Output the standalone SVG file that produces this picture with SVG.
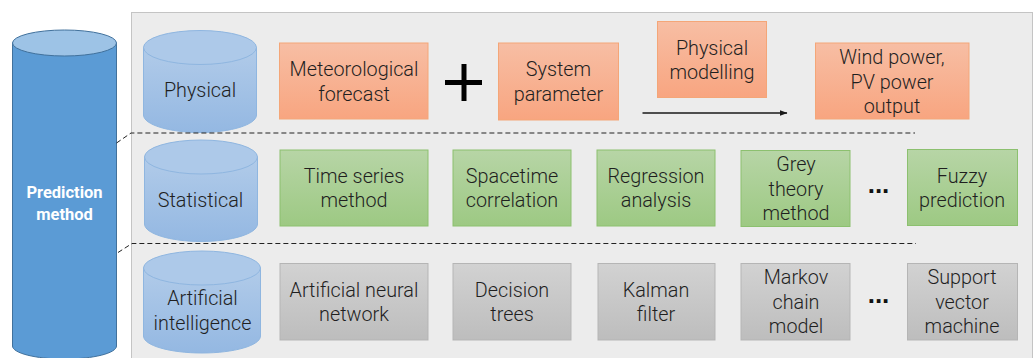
<svg xmlns="http://www.w3.org/2000/svg" width="1036" height="358" viewBox="0 0 1036 358">
<defs>
<linearGradient id="cyl" x1="0" y1="0" x2="0" y2="1"><stop offset="0" stop-color="#b1cbe9"/><stop offset="1" stop-color="#94b8e2"/></linearGradient>
<linearGradient id="org" x1="0" y1="0" x2="0" y2="1"><stop offset="0" stop-color="#f7bea4"/><stop offset="1" stop-color="#f8a580"/></linearGradient>
<linearGradient id="grn" x1="0" y1="0" x2="0" y2="1"><stop offset="0" stop-color="#b7d5a6"/><stop offset="1" stop-color="#9dc983"/></linearGradient>
<linearGradient id="gry" x1="0" y1="0" x2="0" y2="1"><stop offset="0" stop-color="#d2d2d2"/><stop offset="1" stop-color="#bdbdbd"/></linearGradient>
<marker id="arr" viewBox="0 0 8 6" refX="7.500" refY="3" markerWidth="8" markerHeight="6" orient="auto" markerUnits="userSpaceOnUse"><path d="M0 0L8 3L0 6Z" fill="#1a1a1a"/></marker>
</defs>
<style>
text{font-family:Roboto,"Noto Sans",sans-serif;font-size:19.800px;font-weight:300;fill:#1f1f1f;text-anchor:middle}
.o rect{fill:url(#org);stroke:#f4a678;stroke-width:1}
.g rect{fill:url(#grn);stroke:#8cc06f;stroke-width:1}
.k rect{fill:url(#gry);stroke:#b5b5b5;stroke-width:1}
.c path{fill:url(#cyl);stroke:#8fb6e0;stroke-width:1}
.c ellipse{fill:#adc9e9;stroke:#8fb6e0;stroke-width:1}
.d{fill:none;stroke:#222;stroke-width:1;stroke-dasharray:5 3}
text.dots{font-family:"Liberation Sans",sans-serif;font-size:26px;font-weight:700;fill:#111}
</style>
<rect id="panel" x="131.500" y="12.500" width="901" height="350" fill="#ececec" stroke="#c4c4c4"/>
<g id="prediction-method">
<path d="M12.500 43V346C12.500 353 35 359 64.500 359S116.500 353 116.500 346V43Z" fill="#5b9bd5" stroke="#41719c"/>
<ellipse cx="64.500" cy="43" rx="52" ry="13" fill="#9dc3e6" stroke="#41719c"/>
<text x="64.500" y="198" style="font-size:16.500px;font-weight:700;fill:#fff">Prediction</text>
<text x="64.500" y="220" style="font-size:16.500px;font-weight:700;fill:#fff">method</text>
</g>
<g id="physical" class="c">
<path d="M143.500 47.500V115C143.500 124.500 169 132.500 200 132.500S256.500 124.500 256.500 115V47.500Z"/>
<ellipse cx="200" cy="47.500" rx="56.500" ry="17"/>
<text x="200" y="97">Physical</text>
</g>
<g id="statistical" class="c">
<path d="M144.500 157V224C144.500 233.500 170 241.500 201 241.500S257.500 233.500 257.500 224V157Z"/>
<ellipse cx="201" cy="157" rx="56.500" ry="17"/>
<text x="200.500" y="207">Statistical</text>
</g>
<g id="artificial-intelligence" class="c">
<path d="M143.500 268V336C143.500 345.500 170 353 202 353S260.500 345.500 260.500 336V268Z"/>
<ellipse cx="202" cy="268" rx="58.500" ry="17"/>
<text x="202.500" y="305">Artificial</text>
<text x="202.500" y="330">intelligence</text>
</g>
<g id="meteorological-forecast" class="o"><rect x="279.500" y="43" width="148.500" height="76"/><text x="354" y="76">Meteorological</text><text x="354" y="101">forecast</text></g>
<g id="plus"><path d="M464 64V101M445 82.500H482" stroke="#000" stroke-width="5" fill="none"/></g>
<g id="system-parameter" class="o"><rect x="498.500" y="43" width="120" height="77"/><text x="558.500" y="76">System</text><text x="558.500" y="101">parameter</text></g>
<g id="physical-modelling" class="o"><rect x="657.500" y="21.500" width="109" height="76"/><text x="712" y="55">Physical</text><text x="712" y="79">modelling</text></g>
<g id="output" class="o"><rect x="815.500" y="43" width="153.500" height="76"/><text x="892" y="64">Wind power,</text><text x="892" y="89">PV power</text><text x="892" y="113">output</text></g>
<g id="time-series" class="g"><rect x="280" y="150" width="148" height="76"/><text x="354" y="183">Time series</text><text x="354" y="207">method</text></g>
<g id="spacetime" class="g"><rect x="453" y="150" width="118" height="76"/><text x="512" y="183">Spacetime</text><text x="512" y="207">correlation</text></g>
<g id="regression" class="g"><rect x="597" y="150" width="118" height="76"/><text x="656" y="183">Regression</text><text x="656" y="207">analysis</text></g>
<g id="grey" class="g"><rect x="741" y="150.500" width="109" height="76"/><text x="796" y="171">Grey</text><text x="796" y="196">theory</text><text x="796" y="220">method</text></g>
<text class="dots" x="878.500" y="193">...</text>
<g id="fuzzy" class="g"><rect x="907.500" y="149.500" width="110" height="76"/><text x="962" y="183">Fuzzy</text><text x="962" y="207">prediction</text></g>
<g id="ann" class="k"><rect x="280" y="263.500" width="148" height="76.500"/><text x="354" y="297">Artificial neural</text><text x="354" y="321">network</text></g>
<g id="decision" class="k"><rect x="453" y="263.500" width="118" height="76.500"/><text x="512" y="297">Decision</text><text x="512" y="321">trees</text></g>
<g id="kalman" class="k"><rect x="598" y="263.500" width="117" height="76.500"/><text x="656" y="297">Kalman</text><text x="656" y="321">filter</text></g>
<g id="markov" class="k"><rect x="741" y="263.500" width="109" height="76.500"/><text x="796" y="284">Markov</text><text x="796" y="309">chain</text><text x="796" y="333">model</text></g>
<text class="dots" x="878.500" y="303">...</text>
<g id="svm" class="k"><rect x="907.500" y="263.500" width="110" height="76.500"/><text x="962" y="284">Support</text><text x="962" y="309">vector</text><text x="962" y="333">machine</text></g>
<g id="connectors">
<path class="d" d="M116.500 143L131 133H915"/>
<path class="d" d="M118 252.500L132 243.500H916"/>
<path d="M642.500 113H787" stroke="#1a1a1a" stroke-width="1.500" fill="none" marker-end="url(#arr)"/>
</g>
</svg>
